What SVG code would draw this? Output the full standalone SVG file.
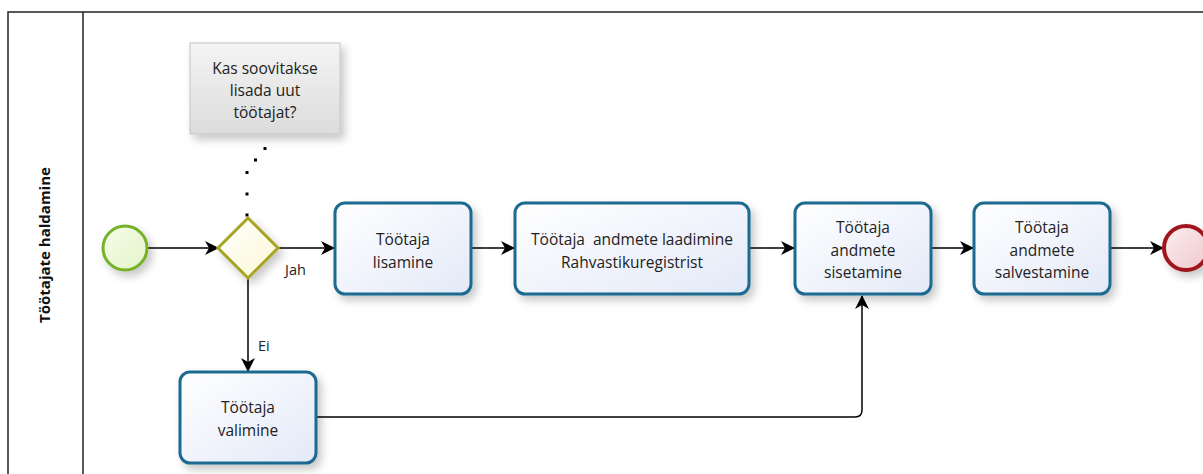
<svg xmlns="http://www.w3.org/2000/svg" width="1203" height="474" viewBox="0 0 1203 474">
<defs>
<linearGradient id="gTask" x1="0" y1="0" x2="1" y2="1">
<stop offset="0" stop-color="#ffffff"/>
<stop offset="1" stop-color="#e3e9f8"/>
</linearGradient>
<linearGradient id="gNote" x1="0" y1="0" x2="0" y2="1">
<stop offset="0" stop-color="#f4f4f4"/>
<stop offset="1" stop-color="#dcdcdc"/>
</linearGradient>
<linearGradient id="gStart" x1="0" y1="0" x2="1" y2="1">
<stop offset="0" stop-color="#f6fdea"/>
<stop offset="1" stop-color="#e2f4c8"/>
</linearGradient>
<linearGradient id="gEnd" x1="0" y1="0" x2="1" y2="1">
<stop offset="0" stop-color="#fbeef0"/>
<stop offset="1" stop-color="#f0c8cc"/>
</linearGradient>
<linearGradient id="gGw" x1="0" y1="0" x2="1" y2="1">
<stop offset="0" stop-color="#ffffff"/>
<stop offset="1" stop-color="#fbf8d4"/>
</linearGradient>
<filter id="sh" x="-20%" y="-20%" width="150%" height="150%">
<feDropShadow dx="4" dy="5" stdDeviation="4" flood-color="#000" flood-opacity="0.22"/>
</filter>
<marker id="arr" viewBox="0 0 14 14" refX="13" refY="7" markerWidth="14" markerHeight="14" markerUnits="userSpaceOnUse" orient="auto">
<path d="M0,0 L14,7 L0,14 L4,7 Z" fill="#000"/>
</marker>
</defs>
<style>
.task{fill:url(#gTask);stroke:#1d6a8f;stroke-width:3;filter:url(#sh)}
.lbl{font-family:"Open Sans","Noto Sans",sans-serif;font-size:15.5px;fill:#222;text-anchor:middle}
.flow{fill:none;stroke:#000;stroke-width:1.5;marker-end:url(#arr)}
.sm{font-family:"Open Sans","Noto Sans",sans-serif;font-size:14.5px;fill:#222}
.dot{fill:#000}
</style>
<rect width="1203" height="474" fill="#fff"/>
<g id="pool">
<path d="M8,474 V12 H1203" fill="none" stroke="#222" stroke-width="1.5"/>
<line x1="83" y1="12" x2="83" y2="474" stroke="#222" stroke-width="1.5"/>
<text x="0" y="0" transform="translate(50,245) rotate(-90)" font-family="'Open Sans','Noto Sans',sans-serif" font-size="15" font-weight="bold" fill="#111" text-anchor="middle">Töötajate haldamine</text>
</g>
<g id="connectors">
<line class="flow" x1="147" y1="248" x2="218" y2="248"/>
<line class="flow" x1="278" y1="248" x2="334" y2="248"/>
<line class="flow" x1="248" y1="278" x2="248" y2="371"/>
<line class="flow" x1="471" y1="248" x2="514" y2="248"/>
<line class="flow" x1="749" y1="248" x2="794" y2="248"/>
<line class="flow" x1="931" y1="248" x2="973" y2="248"/>
<line class="flow" x1="1110" y1="248" x2="1163" y2="248"/>
<path class="flow" d="M316,417 H855 Q862,417 862,410 V296"/>
<g id="association">
<rect class="dot" x="263.5" y="147" width="3" height="3"/>
<rect class="dot" x="254" y="158.5" width="3" height="3"/>
<rect class="dot" x="245.5" y="171" width="3" height="3"/>
<rect class="dot" x="245.5" y="192.5" width="3" height="3"/>
<rect class="dot" x="245.5" y="213.5" width="3" height="3"/>
</g>
<text class="sm" x="285" y="275">Jah</text>
<text class="sm" x="258" y="351">Ei</text>
</g>
<g id="note">
<rect x="190" y="43" width="150" height="91" fill="url(#gNote)" stroke="#c4c4c4" stroke-width="1" filter="url(#sh)"/>
<text class="lbl" x="265" y="74">Kas soovitakse</text>
<text class="lbl" x="265" y="96">lisada uut</text>
<text class="lbl" x="265" y="118">töötajat?</text>
</g>
<g id="start">
<circle cx="125" cy="248" r="22" fill="url(#gStart)" stroke="#74b22a" stroke-width="3" filter="url(#sh)"/>
</g>
<g id="gateway">
<path d="M248,218 L278,248 L248,278 L218,248 Z" fill="url(#gGw)" stroke="#a7a423" stroke-width="3" filter="url(#sh)"/>
</g>
<g id="t-lisamine">
<rect class="task" x="335" y="203" width="136" height="91" rx="10"/>
<text class="lbl" x="403" y="245">Töötaja</text>
<text class="lbl" x="403" y="268">lisamine</text>
</g>
<g id="t-laadimine">
<rect class="task" x="515" y="203" width="234" height="91" rx="10"/>
<text class="lbl" x="632" y="245" xml:space="preserve">Töötaja  andmete laadimine</text>
<text class="lbl" x="632" y="268">Rahvastikuregistrist</text>
</g>
<g id="t-sisetamine">
<rect class="task" x="795" y="203" width="136" height="91" rx="10"/>
<text class="lbl" x="863" y="233">Töötaja</text>
<text class="lbl" x="863" y="256">andmete</text>
<text class="lbl" x="863" y="278">sisetamine</text>
</g>
<g id="t-salvestamine">
<rect class="task" x="974" y="203" width="136" height="91" rx="10"/>
<text class="lbl" x="1042" y="233">Töötaja</text>
<text class="lbl" x="1042" y="256">andmete</text>
<text class="lbl" x="1042" y="278">salvestamine</text>
</g>
<g id="end">
<circle cx="1186" cy="248" r="22" fill="url(#gEnd)" stroke="#a0141a" stroke-width="4" filter="url(#sh)"/>
</g>
<g id="t-valimine">
<rect class="task" x="180" y="372" width="136" height="91" rx="10"/>
<text class="lbl" x="248" y="413">Töötaja</text>
<text class="lbl" x="248" y="436">valimine</text>
</g>
</svg>
